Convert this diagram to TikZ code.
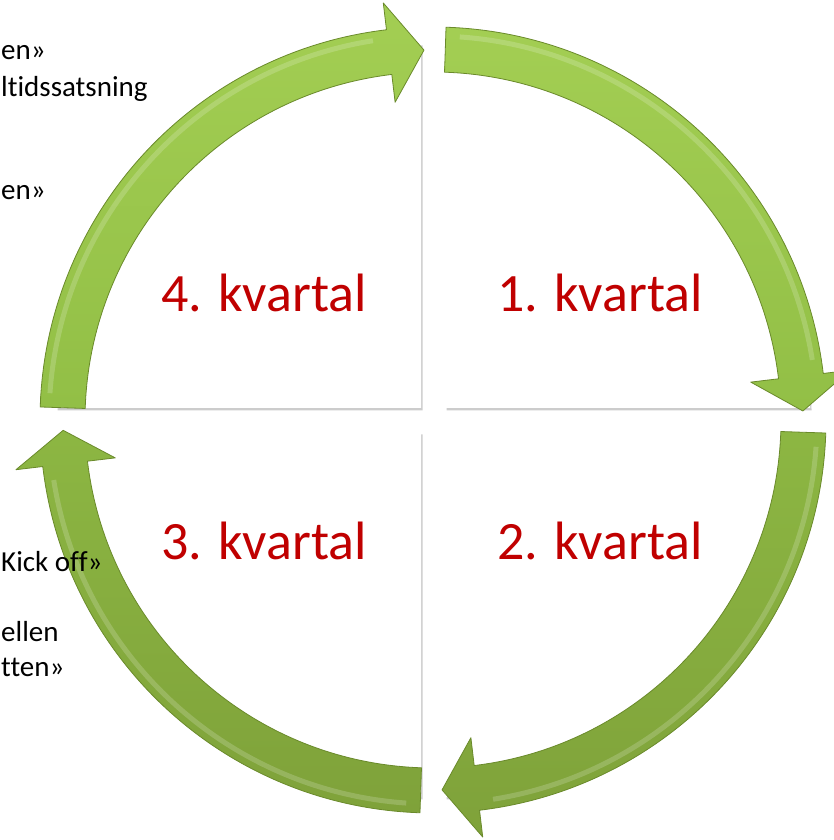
\documentclass[tikz,border=0pt]{standalone}
\usepackage{fontspec}
\setmainfont[Ligatures=NoCommon]{Carlito}
\usetikzlibrary{shadows}

\definecolor{quarterred}{HTML}{C00000}
\definecolor{leaflight}{HTML}{A3CE53}
\definecolor{leafmid}{HTML}{92BF46}
\definecolor{leafdark}{HTML}{7FA23A}
\definecolor{leafedge}{HTML}{6A8A2B}

\begin{document}
\begin{tikzpicture}[
    x=1pt, y=1pt,
    quarter/.style={fill=white, drop shadow={shadow xshift=1.5pt, shadow yshift=-2.5pt, opacity=0.4}},
    kvartal/.style={text=quarterred, font=\fontsize{54}{60}\selectfont, anchor=base},
    note/.style={font=\fontsize{29}{34}\selectfont, anchor=base west, inner sep=0pt},
    leaf/.style={draw=leafedge, line width=0.8pt, line join=round},
    shine/.style={white, opacity=0.18, line width=5pt}
  ]
  \useasboundingbox (0,0) rectangle (834,840);
  \clip (0,0) rectangle (834,840);

  % the four quarters
  \path[quarter] (421,432) -- (56,432) arc[start angle=180, end angle=90, radius=365] -- cycle;
  \path[quarter] (445,432) -- (445,797) arc[start angle=90, end angle=0, radius=365] -- cycle;
  \path[quarter] (445,408) -- (810,408) arc[start angle=0, end angle=-90, radius=365] -- cycle;
  \path[quarter] (421,408) -- (421,43) arc[start angle=-90, end angle=-180, radius=365] -- cycle;

  % arrows round the middle
  \begin{scope}[shift={(433,420)}]
    \path[leaf, top color=leaflight, bottom color=leafmid]
      (88.1:393) arc[start angle=88.1, end angle=6.8, radius=393]
      -- (6.8:420) -- (1.4:370) -- (6.8:320) -- (6.8:348)
      arc[start angle=6.8, end angle=88.1, radius=348] -- cycle;
    \path[leaf, top color=leafmid!70!leafdark, bottom color=leafdark]
      (-1.9:393) arc[start angle=-1.9, end angle=-83.2, radius=393]
      -- (-83.2:420) -- (-88.6:370) -- (-83.2:320) -- (-83.2:348)
      arc[start angle=-83.2, end angle=-1.9, radius=348] -- cycle;
    \path[leaf, top color=leafmid!70!leafdark, bottom color=leafdark]
      (-91.9:393) arc[start angle=-91.9, end angle=-173.2, radius=393]
      -- (-173.2:420) -- (-178.4:370) -- (-173.2:320) -- (-173.2:348)
      arc[start angle=-173.2, end angle=-91.9, radius=348] -- cycle;
    \path[leaf, top color=leaflight, bottom color=leafmid]
      (178.1:393) arc[start angle=178.1, end angle=96.8, radius=393]
      -- (96.8:420) -- (91.4:370) -- (96.8:320) -- (96.8:348)
      arc[start angle=96.8, end angle=178.1, radius=348] -- cycle;
    % light stripe on each shaft
    \draw[shine] (86:384) arc[start angle=86, end angle=9, radius=384];
    \draw[shine] (-4:384) arc[start angle=-4, end angle=-81, radius=384];
    \draw[shine] (-94:384) arc[start angle=-94, end angle=-171, radius=384];
    \draw[shine] (176:384) arc[start angle=176, end angle=99, radius=384];
  \end{scope}

  \node[kvartal] (k4) at (264,528) {4. kvartal};
  \node[kvartal] (k1) at (600,528) {1. kvartal};
  \node[kvartal] (k3) at (264,280) {3. kvartal};
  \node[kvartal] (k2) at (600,280) {2. kvartal};

  % notes at the left edge
  \node[note] (n1) at (1,780) {en»};
  \node[note] (n2) at (1,743) {ltidssatsning};
  \node[note] (n3) at (1,640) {en»};
  \node[note] (n4) at (1,268) {Kick off»};
  \node[note] (n5) at (1,198) {ellen};
  \node[note] (n6) at (1,163) {tten»};
\end{tikzpicture}
\end{document}
